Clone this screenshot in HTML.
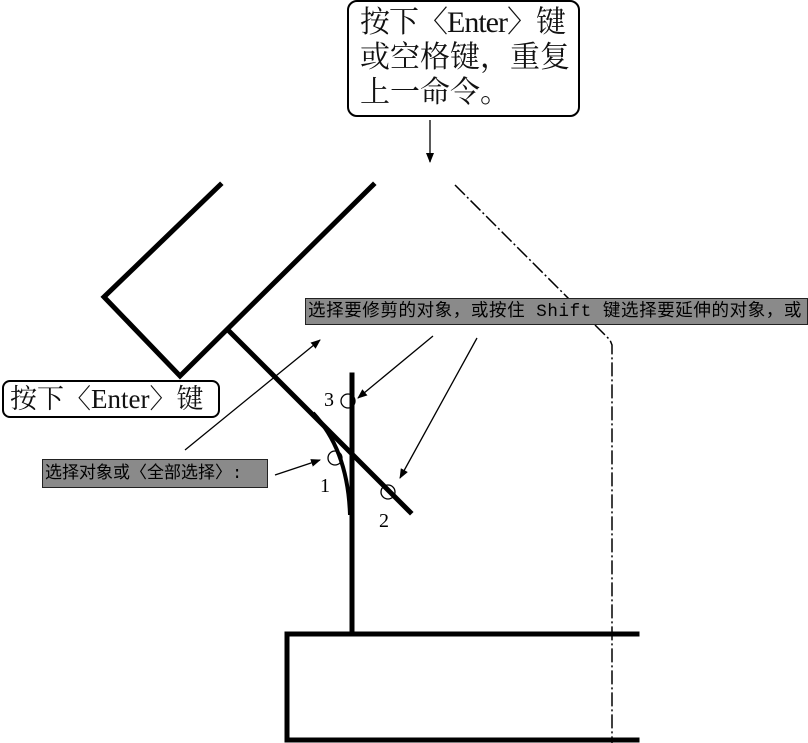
<!DOCTYPE html>
<html><head><meta charset="utf-8"><style>
body{margin:0;width:808px;height:743px;background:#fff;overflow:hidden;position:relative;font-family:"Liberation Serif","Noto Serif CJK SC",serif}
.box{position:absolute;border:2px solid #000;border-radius:10px;background:#fff;color:#111;white-space:nowrap;overflow:hidden}
.g{position:absolute;background:#8a8a8a;border:1px solid #222;color:#000;font-family:"Liberation Mono","WenQuanYi Zen Hei",monospace;white-space:nowrap;overflow:hidden}
</style></head><body>
<svg width="808" height="743" style="position:absolute;left:0;top:0">
<defs><marker id="a" markerWidth="10" markerHeight="8" refX="9" refY="4" orient="auto" markerUnits="userSpaceOnUse"><path d="M0,0L10,4L0,8z" fill="#000"/></marker></defs>
<g stroke="#000" stroke-width="5" fill="none" stroke-linecap="square">
<polyline points="220,185 104,297 180,376 373,185"/>
<line x1="228" y1="330" x2="410" y2="512"/>
<line x1="352" y1="375" x2="352" y2="633"/>
<polyline points="637,634 287,634 287,740 637,740"/>
</g>
<path d="M313,413 Q348,450 350,515" stroke="#000" stroke-width="4" fill="none"/>
<g stroke="#000" stroke-width="1.5" fill="none" stroke-dasharray="14,3,2,3">
<polyline points="455,185 610,340 612,345 612,743"/>
</g>
<g stroke="#000" stroke-width="1.3" fill="none" marker-end="url(#a)">
<line x1="430" y1="120" x2="430" y2="162"/>
<line x1="185" y1="450" x2="320" y2="340"/>
<line x1="433" y1="336" x2="358" y2="398"/>
<line x1="477" y1="338" x2="400" y2="478"/>
<line x1="275" y1="475" x2="320" y2="460"/>
</g>
<g stroke="#000" stroke-width="1.3" fill="none">
<circle cx="348" cy="401" r="7"/><circle cx="335" cy="458" r="7"/><circle cx="388" cy="492" r="7"/>
</g>
<g font-family="Liberation Serif" font-size="20" fill="#000">
<text x="324" y="406">3</text><text x="320" y="492">1</text><text x="379" y="527">2</text>
</g>
</svg>
<div class="box" style="left:347px;top:0;width:233px;height:117px;box-sizing:border-box;font-size:30px;line-height:35px;padding:3px 0 0 11px"><span style="letter-spacing:-1px">按下〈Enter〉键</span><br>或空格键，重复<br>上一命令。</div>
<div class="box" style="left:2px;top:380px;width:218px;height:38px;box-sizing:border-box;font-size:27px;line-height:34px;padding-left:6px;border-radius:8px">按下〈Enter〉键</div>
<div class="g" style="left:305px;top:298px;width:503px;height:27px;font-size:17.5px;line-height:27px;padding-left:2px;box-sizing:border-box;letter-spacing:0.6px">选择要修剪的对象，或按住 Shift 键选择要延伸的对象，或</div>
<div class="g" style="left:42px;top:459px;width:226px;height:29px;font-size:17px;line-height:29px;padding-left:2px;box-sizing:border-box">选择对象或〈全部选择〉:</div>
</body></html>
